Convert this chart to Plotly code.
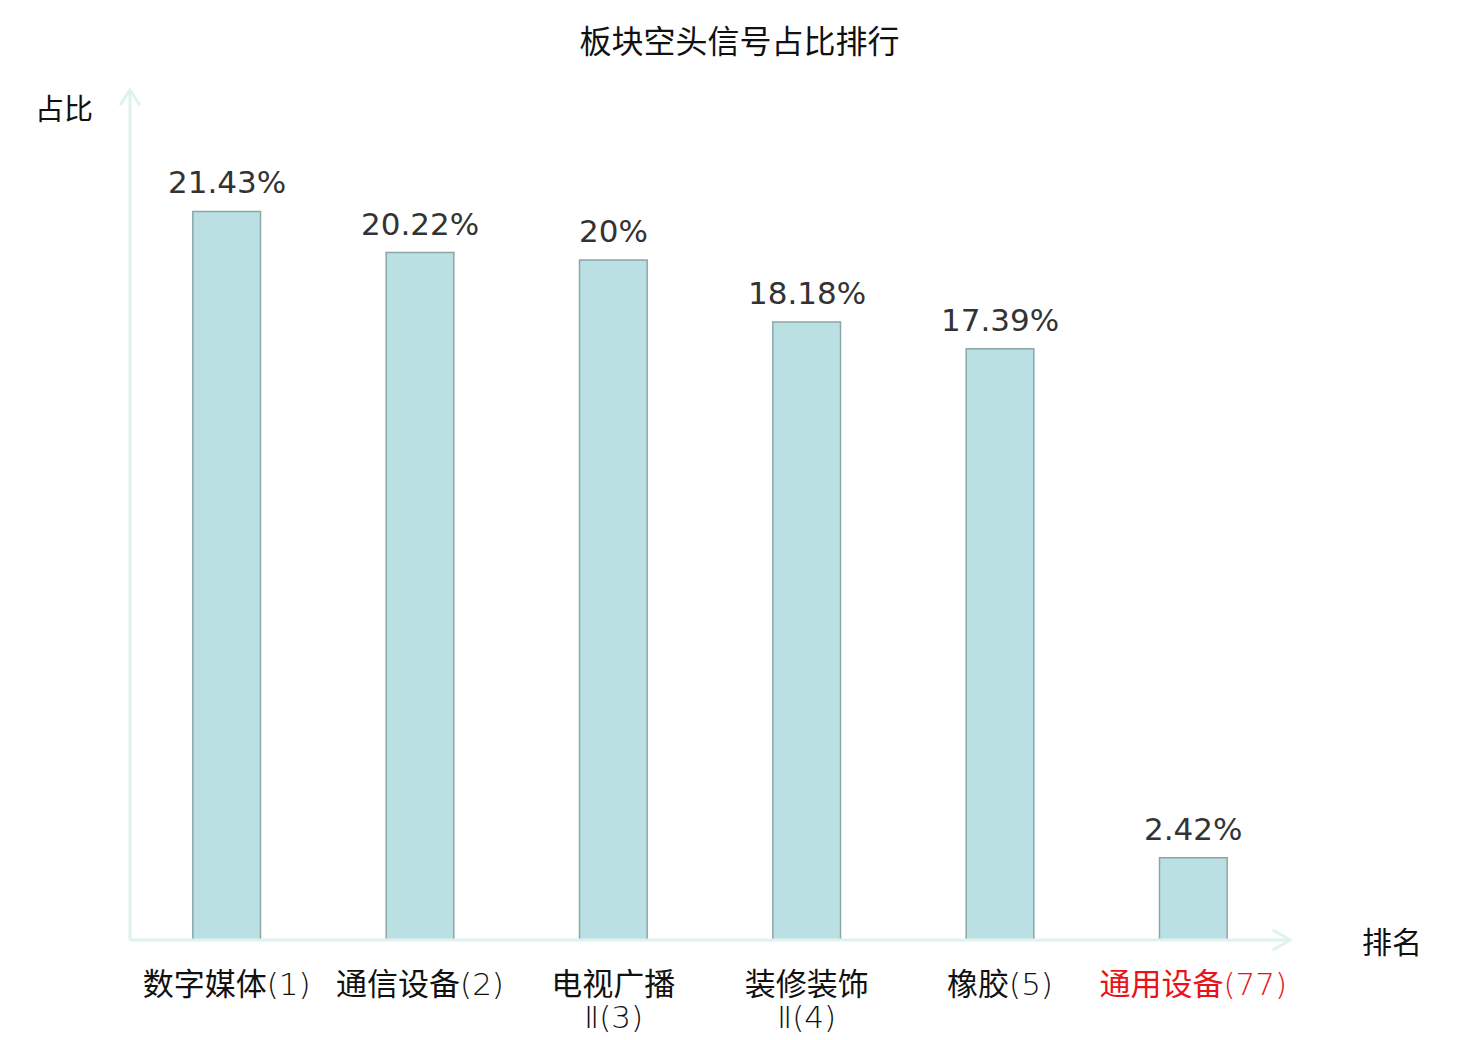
import plotly.graph_objects as go

# 板块空头信号占比数据
sectors = ['数字媒体(1)', '通信设备(2)', '电视广播Ⅱ(3)', '装修装饰Ⅱ(4)', '橡胶(5)', '通用设备(77)']
ratios = [21.43, 20.22, 20.0, 18.18, 17.39, 2.42]
ratio_labels = ['21.43%', '20.22%', '20%', '18.18%', '17.39%', '2.42%']
highlight = '通用设备(77)'

font_family = 'DejaVu Sans, Noto Sans CJK SC, sans-serif'
tick_family = 'DejaVu Sans Light, Noto Sans CJK SC, sans-serif'
axis_color = '#dff2f0'

# 长名称折成两行：第一行做刻度，第二行用注释
first_lines = []
second_lines = []
for s in sectors:
    if len(s) > 7 and s != highlight:
        first_lines.append(s[:4])
        second_lines.append(s[4:])
    else:
        first_lines.append(s)
        second_lines.append('')

tick_text = []
for s, t in zip(sectors, first_lines):
    if s == highlight:
        tick_text.append("<span style='color:#e8131a'>" + t + "</span>")
    else:
        tick_text.append(t)

fig = go.Figure()
fig.add_trace(go.Bar(
    x=list(range(len(sectors))),
    y=ratios,
    width=0.35,
    marker=dict(color='#bbe0e3', line=dict(color='#8aa6a7', width=1.5)),
    hoverinfo='skip',
))

# 数值标签
for i, (v, lab) in enumerate(zip(ratios, ratio_labels)):
    fig.add_annotation(x=i, y=v, text=lab, showarrow=False, yanchor='bottom',
                       yshift=9, font=dict(size=31, color='#333333', family=font_family))

for i, t in enumerate(second_lines):
    if t:
        fig.add_annotation(x=i, yref='paper', y=0, text=t, showarrow=False,
                           yanchor='middle', yshift=-77,
                           font=dict(size=31, color='#111111', family=tick_family))

# 坐标轴箭头
fig.add_shape(type='line', xref='paper', yref='paper', x0=0, y0=0, x1=0, y1=1,
              line=dict(color=axis_color, width=3))
fig.add_shape(type='line', xref='paper', yref='paper', x0=0, y0=0, x1=1, y1=0,
              line=dict(color=axis_color, width=3))
fig.add_shape(type='path', xref='paper', yref='paper',
              path='M -0.0086,0.982 L 0,1 L 0.0086,0.982',
              line=dict(color=axis_color, width=3))
fig.add_shape(type='path', xref='paper', yref='paper',
              path='M 0.985,0.012 L 1,0 L 0.985,-0.012',
              line=dict(color=axis_color, width=3))

fig.add_annotation(xref='paper', yref='paper', x=-0.0573, y=0.976, text='占比',
                   xanchor='center', yanchor='middle',
                   showarrow=False, font=dict(size=29, color='#111111', family=font_family))
fig.add_annotation(xref='paper', yref='paper', x=1.088, y=-0.0024, text='排名',
                   xanchor='center', yanchor='middle',
                   showarrow=False, font=dict(size=30, color='#111111', family=font_family))

fig.update_layout(
    width=1472, height=1032,
    margin=dict(l=122, r=190, t=82, b=100),
    paper_bgcolor='white', plot_bgcolor='white',
    showlegend=False,
    title=dict(text='板块空头信号占比排行', x=0.497, xanchor='center', y=1 - 34 / 1032, yanchor='middle',
               font=dict(size=32, color='#111111', family=font_family)),
    xaxis=dict(range=[-0.5, 5.5], tickmode='array', tickvals=list(range(len(sectors))),
               ticktext=tick_text, showgrid=False, zeroline=False, showline=False,
               ticks='outside', ticklen=17, tickcolor='rgba(0,0,0,0)', automargin=False,
               tickfont=dict(size=31, color='#111111', family=tick_family)),
    yaxis=dict(range=[0, 25], showgrid=False, zeroline=False, showline=False,
               showticklabels=False, ticks='', automargin=False),
)

fig.write_html('out.html')
